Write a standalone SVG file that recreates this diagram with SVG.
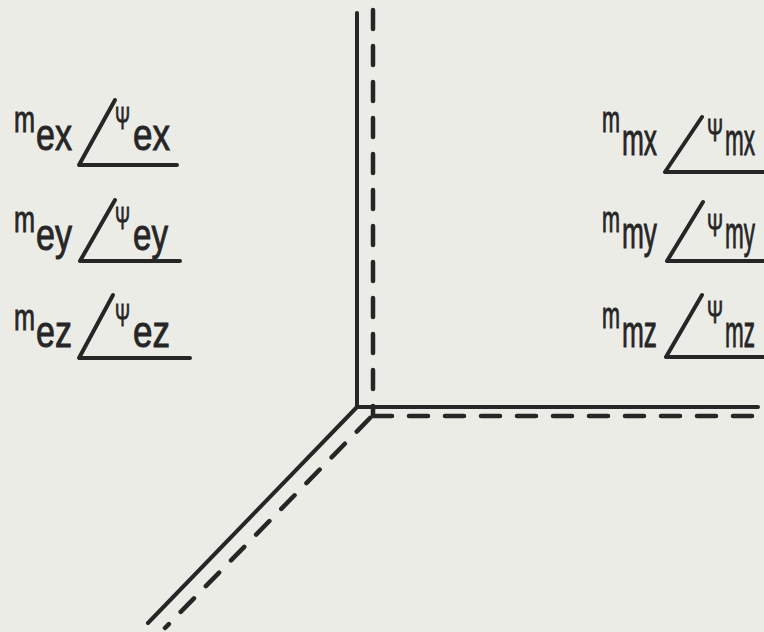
<svg xmlns="http://www.w3.org/2000/svg" width="764" height="632" viewBox="0 0 764 632">
<style>
.bg{fill:#ecece6}
.t{font-family:"Liberation Sans","DejaVu Sans",sans-serif;fill:#262626;stroke:#262626;stroke-width:0.9}
.m{font-size:36px}
.s{font-size:44px}
.p{font-size:32px}
.ang{fill:none;stroke:#262626;stroke-width:4;stroke-linecap:round;stroke-linejoin:round}
.solid{fill:none;stroke:#262626;stroke-width:4;stroke-linecap:round}
.dash{fill:none;stroke:#262626;stroke-width:4.5;stroke-linecap:round;stroke-dasharray:19 17}
</style>
<rect class="bg" x="0" y="0" width="764" height="632"/>
<g id="axes">
<line class="solid" x1="357" y1="13" x2="357" y2="407"/>
<line class="solid" x1="357" y1="407" x2="758" y2="407"/>
<line class="solid" x1="357" y1="407" x2="148" y2="623"/>
<line class="dash" x1="373" y1="10" x2="373" y2="416"/>
<line class="dash" x1="373" y1="416" x2="770" y2="416"/>
<line class="dash" x1="370" y1="418" x2="165" y2="628"/>
</g>
<g id="label-ex">
<text class="t m" x="14" y="132" textLength="21" lengthAdjust="spacingAndGlyphs">m</text>
<text class="t s" x="36" y="150" textLength="36" lengthAdjust="spacingAndGlyphs">ex</text>
<polyline class="ang" points="115,100 79,165 177,165"/>
<text class="t p" x="115" y="129" textLength="15" lengthAdjust="spacingAndGlyphs">Ψ</text>
<text class="t s" x="133" y="150" textLength="37" lengthAdjust="spacingAndGlyphs">ex</text>
</g>
<g id="label-ey">
<text class="t m" x="14" y="232" textLength="21" lengthAdjust="spacingAndGlyphs">m</text>
<text class="t s" x="36" y="250" textLength="36" lengthAdjust="spacingAndGlyphs">ey</text>
<polyline class="ang" points="115,200 80,261 180,261"/>
<text class="t p" x="115" y="229" textLength="15" lengthAdjust="spacingAndGlyphs">Ψ</text>
<text class="t s" x="133" y="250" textLength="35" lengthAdjust="spacingAndGlyphs">ey</text>
</g>
<g id="label-ez">
<text class="t m" x="14" y="330" textLength="21" lengthAdjust="spacingAndGlyphs">m</text>
<text class="t s" x="36" y="347" textLength="36" lengthAdjust="spacingAndGlyphs">ez</text>
<polyline class="ang" points="113,295 79,358 190,358"/>
<text class="t p" x="115" y="326" textLength="15" lengthAdjust="spacingAndGlyphs">Ψ</text>
<text class="t s" x="133" y="347" textLength="37" lengthAdjust="spacingAndGlyphs">ez</text>
</g>
<g id="label-mx">
<text class="t m" x="602" y="132" textLength="18" lengthAdjust="spacingAndGlyphs">m</text>
<text class="t s" x="622" y="155" textLength="35" lengthAdjust="spacingAndGlyphs">mx</text>
<polyline class="ang" points="702,117 665,172 770,172"/>
<text class="t p" x="707" y="141" textLength="16" lengthAdjust="spacingAndGlyphs">Ψ</text>
<text class="t s" x="725" y="155" textLength="30" lengthAdjust="spacingAndGlyphs">mx</text>
</g>
<g id="label-my">
<text class="t m" x="602" y="232" textLength="18" lengthAdjust="spacingAndGlyphs">m</text>
<text class="t s" x="622" y="248" textLength="35" lengthAdjust="spacingAndGlyphs">my</text>
<polyline class="ang" points="703,202 667,261 770,261"/>
<text class="t p" x="707" y="236" textLength="16" lengthAdjust="spacingAndGlyphs">Ψ</text>
<text class="t s" x="725" y="248" textLength="30" lengthAdjust="spacingAndGlyphs">my</text>
</g>
<g id="label-mz">
<text class="t m" x="602" y="328" textLength="18" lengthAdjust="spacingAndGlyphs">m</text>
<text class="t s" x="622" y="347" textLength="35" lengthAdjust="spacingAndGlyphs">mz</text>
<polyline class="ang" points="702,295 666,357 770,357"/>
<text class="t p" x="707" y="323" textLength="16" lengthAdjust="spacingAndGlyphs">Ψ</text>
<text class="t s" x="725" y="347" textLength="30" lengthAdjust="spacingAndGlyphs">mz</text>
</g>
</svg>
